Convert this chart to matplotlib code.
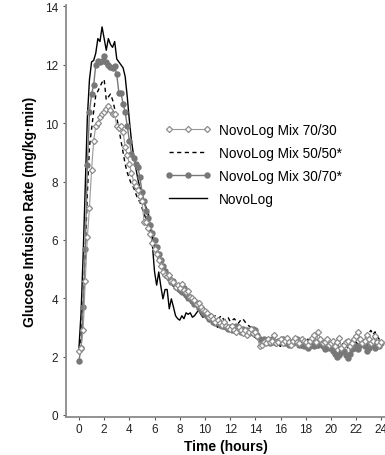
import numpy as np
import matplotlib
matplotlib.use("Agg")
import matplotlib.pyplot as plt

plt.rcParams['font.family'] = ['Liberation Sans', 'DejaVu Sans']

# sampling every 10 minutes, 0..24 h
hours = np.arange(145) / 6.0

mix_70_30 = [
    2.2, 2.3, 2.9, 4.6, 6.1, 7.1,
    8.4, 9.4, 9.9, 10.0, 10.2, 10.3,
    10.4, 10.5, 10.6, 10.45, 10.3, 10.3,
    9.9, 9.85, 9.9, 9.7, 9.2, 8.9,
    8.6, 8.3, 8.0, 7.85, 7.7, 7.5,
    7.35, 6.6, 6.6, 6.4, 6.2, 5.9,
    5.7, 5.5, 5.3, 5.1, 4.9, 4.8,
    4.75, 4.8, 4.6, 4.55, 4.4, 4.45,
    4.35, 4.5, 4.3, 4.2, 4.25, 4.05,
    4.0, 3.95, 3.8, 3.85, 3.7, 3.6,
    3.55, 3.5, 3.35, 3.4, 3.3, 3.2,
    3.25, 3.15, 3.1, 3.2, 3.05, 3.0,
    2.95, 3.05, 2.9, 2.85, 3.0, 2.9,
    2.8, 2.9, 2.75, 2.85, 2.95, 2.8,
    2.85, 2.7, 2.35, 2.4, 2.5, 2.45,
    2.6, 2.5, 2.55, 2.75, 2.45, 2.5,
    2.6, 2.45, 2.55, 2.65, 2.5, 2.4,
    2.55, 2.65, 2.5, 2.45, 2.6, 2.55,
    2.5, 2.4, 2.55, 2.65, 2.75, 2.5,
    2.85, 2.6, 2.45, 2.5, 2.6, 2.4,
    2.45, 2.55, 2.35, 2.5, 2.65, 2.3,
    2.4, 2.5, 2.55, 2.35, 2.45, 2.6,
    2.7, 2.85, 2.6, 2.45, 2.55, 2.75,
    2.6, 2.45, 2.55, 2.7, 2.5, 2.4,
    2.5,
]

mix_50_50 = [
    2.2, 2.6, 3.8, 5.6, 7.6, 9.2,
    9.8, 10.4, 10.96, 11.1, 11.25, 11.4,
    11.5, 10.8, 10.9, 11.0, 10.8, 10.5,
    10.2, 9.8, 9.4, 9.0, 8.6, 8.3,
    8.1, 7.9, 7.8, 7.6, 7.4, 7.3,
    7.1, 6.9, 6.7, 6.5, 6.3, 6.1,
    5.8, 5.5, 5.3, 5.1, 4.9, 4.8,
    4.7, 4.6, 4.5, 4.4, 4.3, 4.25,
    4.2, 4.15, 4.1, 4.0, 3.95, 3.9,
    3.85, 3.8, 3.7, 3.65, 3.6, 3.55,
    3.5, 3.45, 3.4, 3.45, 3.35, 3.4,
    3.3, 3.35, 3.4, 3.25, 3.3, 3.35,
    3.2, 3.25, 3.3, 3.2, 3.15, 3.25,
    3.3, 3.2, 3.1, 3.05, 3.0, 2.95,
    2.9, 2.8, 2.7, 2.6, 2.65, 2.55,
    2.5, 2.6, 2.45, 2.55, 2.5, 2.4,
    2.35, 2.5, 2.45, 2.6, 2.55, 2.45,
    2.5, 2.4, 2.55, 2.45, 2.3, 2.5,
    2.45, 2.6, 2.5, 2.4, 2.45, 2.55,
    2.6, 2.5, 2.45, 2.35, 2.5, 2.45,
    2.4, 2.55, 2.6, 2.5, 2.45, 2.35,
    2.5, 2.45, 2.6, 2.4, 2.55, 2.65,
    2.7, 2.6, 2.55, 2.45, 2.6, 2.7,
    2.8, 2.9, 2.75, 2.85, 2.7, 2.6,
    2.5,
]

mix_30_70 = [
    1.85, 2.3, 3.7, 5.7, 8.55, 10.4,
    11.0, 11.3, 12.0, 12.13, 12.1, 12.13,
    12.3, 12.1, 12.0, 11.93, 11.9, 11.95,
    11.67, 11.04, 11.04, 10.67, 10.39, 9.9,
    9.4, 8.96, 8.8, 8.6, 8.5, 8.16,
    7.64, 7.35, 7.0, 6.75, 6.5, 6.25,
    6.0, 5.75, 5.5, 5.3, 5.1, 4.95,
    4.8, 4.7, 4.55, 4.6, 4.4, 4.35,
    4.3, 4.2, 4.35, 4.1, 4.0, 4.05,
    3.9, 3.8, 3.85, 3.65, 3.6, 3.5,
    3.45, 3.4, 3.3, 3.35, 3.2, 3.15,
    3.2, 3.1, 3.05, 3.1, 3.0, 2.95,
    3.0, 2.9, 2.95, 3.05, 2.9, 2.85,
    2.95, 2.85, 2.9, 2.8, 2.85, 2.95,
    2.9, 2.75, 2.6, 2.55, 2.6, 2.5,
    2.55, 2.45, 2.6, 2.5, 2.45, 2.55,
    2.5, 2.6, 2.45, 2.55, 2.4, 2.5,
    2.45, 2.55, 2.6, 2.4, 2.5, 2.35,
    2.45, 2.3, 2.4, 2.5, 2.35, 2.45,
    2.4, 2.5, 2.35, 2.25, 2.4, 2.3,
    2.35, 2.2, 2.1, 2.0, 2.05, 2.15,
    2.2, 2.05, 1.95, 2.1, 2.25, 2.3,
    2.35, 2.25, 2.4, 2.5, 2.35, 2.2,
    2.3, 2.45, 2.4, 2.3, 2.5, 2.35,
    2.45,
]

novolog = [
    2.3, 3.5, 5.5, 7.8, 10.2, 11.5,
    12.1, 12.15, 12.4, 12.9, 12.8, 13.3,
    12.9, 12.5, 12.9, 12.7, 12.6, 12.8,
    12.2, 12.1, 12.0, 11.9, 11.6, 10.9,
    10.1, 9.4, 8.9, 8.5, 8.1, 7.8,
    7.6, 7.3, 7.1, 6.95, 6.4, 5.8,
    4.9, 4.45, 4.9, 4.4, 3.98, 4.3,
    4.3, 3.64, 3.98, 3.7, 3.4, 3.3,
    3.25, 3.4, 3.3, 3.5, 3.45, 3.5,
    3.35, 3.4, 3.5, 3.6, 3.45, 3.35,
    3.4, 3.3, 3.2, 3.25, 3.1, 3.15,
    3.0, 3.1, 3.05, 2.95, 3.0, 2.9,
    2.95, 2.85, 2.9, 3.0, 2.8, 2.85,
    2.9, 2.8, 2.75, 2.85, 2.8, 2.7,
    2.65, 2.6, 2.55, 2.5, 2.6, 2.55,
    2.5, 2.45, 2.55, 2.5, 2.4, 2.5,
    2.4, 2.55, 2.5, 2.45, 2.35, 2.45,
    2.4, 2.5, 2.45, 2.35, 2.4, 2.5,
    2.35, 2.4, 2.5, 2.3, 2.4, 2.35,
    2.3, 2.45, 2.35, 2.4, 2.3, 2.35,
    2.4, 2.3, 2.35, 2.45, 2.3, 2.25,
    2.35, 2.4, 2.3, 2.45, 2.35, 2.4,
    2.5, 2.4, 2.35, 2.45, 2.5, 2.4,
    2.45, 2.5, 2.4, 2.55, 2.45, 2.5,
    2.4,
]

x_ticks = list(range(0, 25, 2))
y_ticks = list(range(0, 15, 2))

fig = plt.figure(figsize=(3.85, 4.56), dpi=100)
ax = fig.add_axes([0.1714, 0.0833, 0.8286, 0.9035])

ax.plot(hours, novolog, color='black', lw=1.0, zorder=1, label='NovoLog')
ax.plot(hours, mix_50_50, color='black', lw=1.0, ls=(0, (3, 2.5)), zorder=2,
        label='NovoLog Mix 50/50*')
ax.plot(hours, mix_30_70, color='#777777', lw=1.0, marker='o', ms=3.6,
        mfc='#777777', mec='#777777', zorder=3, label='NovoLog Mix 30/70*')
ax.plot(hours, mix_70_30, color='#999999', lw=0.8, marker='D', ms=3.1,
        mfc='white', mec='#8c8c8c', mew=0.9, zorder=4, label='NovoLog Mix 70/30')

ax.set_xlim(-1.03, 24.29)
ax.set_ylim(-0.07, 14.05)
ax.set_xticks(x_ticks)
ax.set_yticks(y_ticks)

for s in ['top', 'right']:
    ax.spines[s].set_visible(False)
for s in ['left', 'bottom']:
    ax.spines[s].set_color('#8a8a8a')
    ax.spines[s].set_linewidth(1.3)
ax.tick_params(axis='both', labelsize=8.5, length=2.5, width=0.8, color='#555555',
               labelcolor='#222222', pad=3)
ax.tick_params(axis='x', pad=1.5)

ax.set_xlabel('Time (hours)', fontsize=10, fontweight='bold')
ax.xaxis.set_label_coords(0.5, -0.053)
ax.set_ylabel('Glucose Infusion Rate (mg/kg\u00b7min)', fontsize=10,
              fontweight='bold', labelpad=6)

handles, labels = ax.get_legend_handles_labels()
order = [3, 1, 2, 0]
ax.legend([handles[i] for i in order], [labels[i] for i in order],
          loc='upper left', bbox_to_anchor=(0.31, 0.713), frameon=False,
          fontsize=9.8, numpoints=3, handlelength=3.4, handletextpad=0.55,
          labelspacing=0.66, borderpad=0, borderaxespad=0)

fig.savefig('out.png', dpi=100)
